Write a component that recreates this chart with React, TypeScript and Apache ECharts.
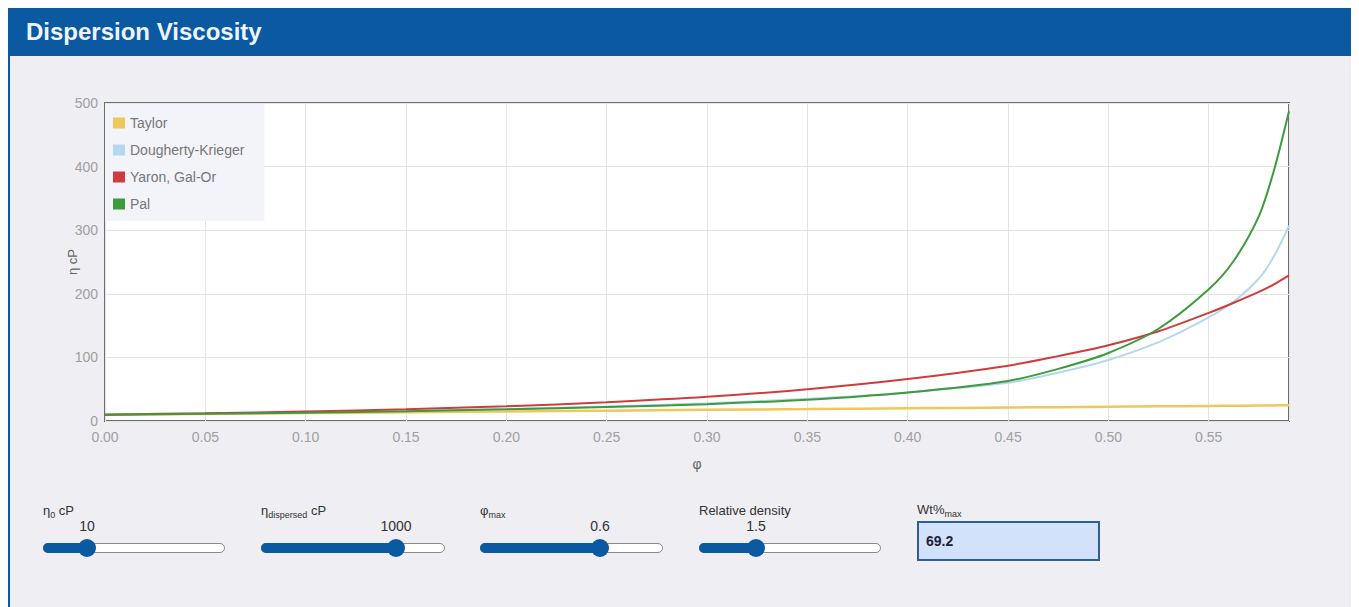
import React, { useEffect, useRef } from "react";
import * as echarts from "echarts";

const phi = [0, 0.05, 0.1, 0.15, 0.2, 0.25, 0.3, 0.35, 0.4, 0.45, 0.475, 0.5, 0.525, 0.55, 0.5625, 0.575, 0.5825, 0.59];
const taylor = [10, 11.2, 12.5, 13.7, 15.0, 16.2, 17.5, 18.7, 20.0, 21.2, 21.8, 22.4, 23.0, 23.7, 24.0, 24.3, 24.5, 24.7];
const doughertyKrieger = [10, 11.5, 13.4, 15.8, 18.8, 22.8, 28, 35, 45, 60, 76, 96, 124, 163, 188, 224, 259, 307];
const yaronGalOr = [10, 12.2, 15, 18.6, 23.2, 29.5, 38, 50, 66, 87, 102, 119, 141, 170, 186, 203, 215, 229];
const pal = [10, 11.3, 13, 15.4, 18.4, 22, 26.5, 33.5, 45, 63, 82, 107, 145, 207, 252, 322, 394, 487];

const seriesNames = ["Taylor", "Dougherty-Krieger", "Yaron, Gal-Or", "Pal"];
const seriesColors = ["#efc75a", "#b4d8ee", "#cf3c3c", "#3d9a3d"];
const seriesValues = [taylor, doughertyKrieger, yaronGalOr, pal];

const FONT = "'Liberation Sans', Arial, sans-serif";
const BLUE = "#0a59a1";

function Slider({ left, width, thumb, label, value }: { left: number; width: number; thumb: number; label: React.ReactNode; value: string }) {
  return (
    <>
      <div style={{ position: "absolute", left, top: 503, fontSize: 13, color: "#333", whiteSpace: "nowrap" }}>{label}</div>
      <div style={{ position: "absolute", left: thumb - 40, width: 80, top: 518, fontSize: 14, color: "#333", textAlign: "center" }}>{value}</div>
      <div style={{ position: "absolute", left, top: 543, width: width, height: 10, boxSizing: "border-box", border: "1px solid #8a8a8a", borderRadius: 5, background: "#fff" }} />
      <div style={{ position: "absolute", left, top: 543, width: thumb - left, height: 10, borderRadius: 5, background: BLUE }} />
      <div style={{ position: "absolute", left: thumb - 9, top: 539, width: 18, height: 18, borderRadius: 9, background: BLUE }} />
    </>
  );
}

export default function App() {
  const ref = useRef<HTMLDivElement>(null);
  useEffect(() => {
    if (!ref.current) return;
    const chart = echarts.init(ref.current, undefined, { renderer: "svg" });
    chart.setOption({
      animation: false,
      backgroundColor: "transparent",
      textStyle: { fontFamily: FONT },
      grid: {
        left: 105,
        top: 103,
        width: 1184,
        height: 318,
        show: true,
        backgroundColor: "#ffffff",
        borderColor: "#6e6e6e",
        borderWidth: 2,
      },
      legend: {
        orient: "vertical",
        left: 105,
        top: 104,
        data: seriesNames,
        icon: "rect",
        itemWidth: 12,
        itemHeight: 11,
        itemGap: 13,
        padding: [12, 20, 10, 8],
        backgroundColor: "#f3f3fa",
        textStyle: { color: "#777", fontSize: 14, fontFamily: FONT },
      },
      xAxis: {
        type: "value",
        min: 0,
        max: 0.59,
        interval: 0.05,
        name: "φ",
        nameLocation: "middle",
        nameGap: 36,
        nameMoveOverlap: false,
        nameTextStyle: { color: "#666", fontSize: 14 },
        axisLine: { show: false },
        axisTick: { show: false },
        axisLabel: {
          color: "#a0a0a0",
          fontSize: 14,
          margin: 9,
          showMaxLabel: false,
          formatter: (v: number) => v.toFixed(2),
        },
        splitLine: { show: true, lineStyle: { color: "#e4e4e4", width: 1 } },
      },
      yAxis: {
        type: "value",
        min: 0,
        max: 500,
        interval: 100,
        name: "η cP",
        nameLocation: "middle",
        nameGap: 26,
        nameMoveOverlap: false,
        nameTextStyle: { color: "#666", fontSize: 13 },
        axisLine: { show: false },
        axisTick: { show: false },
        axisLabel: { color: "#a0a0a0", fontSize: 14, margin: 7 },
        splitLine: { show: true, lineStyle: { color: "#e4e4e4", width: 1 } },
      },
      series: seriesNames.map((name, i) => ({
        name,
        type: "line",
        data: phi.map((x, j) => [x, seriesValues[i][j]]),
        smooth: 0.3,
        showSymbol: false,
        symbol: "none",
        color: seriesColors[i],
        lineStyle: { color: seriesColors[i], width: i === 0 ? 2.5 : 2 },
      })),
    });
    return () => chart.dispose();
  }, []);

  return (
    <div style={{ position: "absolute", left: 0, top: 0, width: 1359, height: 607, overflow: "hidden", background: "#fff", fontFamily: FONT }}>
      <div style={{ position: "absolute", left: 8, top: 8, width: 1343, height: 48, background: BLUE }} />
      <div style={{ position: "absolute", left: 26, top: 8, height: 48, lineHeight: "48px", color: "#eef4ff", fontWeight: "bold", fontSize: 24 }}>
        Dispersion Viscosity
      </div>
      <div style={{ position: "absolute", left: 8, top: 56, width: 1343, height: 560, background: "#eeeef3", borderLeft: `2px solid ${BLUE}`, boxSizing: "border-box" }} />
      <div ref={ref} style={{ position: "absolute", left: 0, top: 0, width: 1359, height: 480 }} />
      <Slider left={43} width={182} thumb={87} value="10" label={<span>η<sub style={{ fontSize: 9, verticalAlign: "-3px" }}>0</sub> cP</span>} />
      <Slider left={261} width={184} thumb={396} value="1000" label={<span>η<sub style={{ fontSize: 9, verticalAlign: "-3px" }}>dispersed</sub> cP</span>} />
      <Slider left={480} width={183} thumb={600} value="0.6" label={<span>φ<sub style={{ fontSize: 9, verticalAlign: "-3px" }}>max</sub></span>} />
      <Slider left={699} width={182} thumb={756} value="1.5" label={<span>Relative density</span>} />
      <div style={{ position: "absolute", left: 917, top: 502, fontSize: 13, color: "#333", whiteSpace: "nowrap" }}>
        Wt%<sub style={{ fontSize: 9, verticalAlign: "-3px" }}>max</sub>
      </div>
      <div style={{ position: "absolute", left: 917, top: 521, width: 183, height: 40, boxSizing: "border-box", border: "2px solid #2f5f95", background: "#d3e2fb", fontSize: 14, fontWeight: "bold", color: "#223", lineHeight: "36px", paddingLeft: 7 }}>
        69.2
      </div>
    </div>
  );
}
